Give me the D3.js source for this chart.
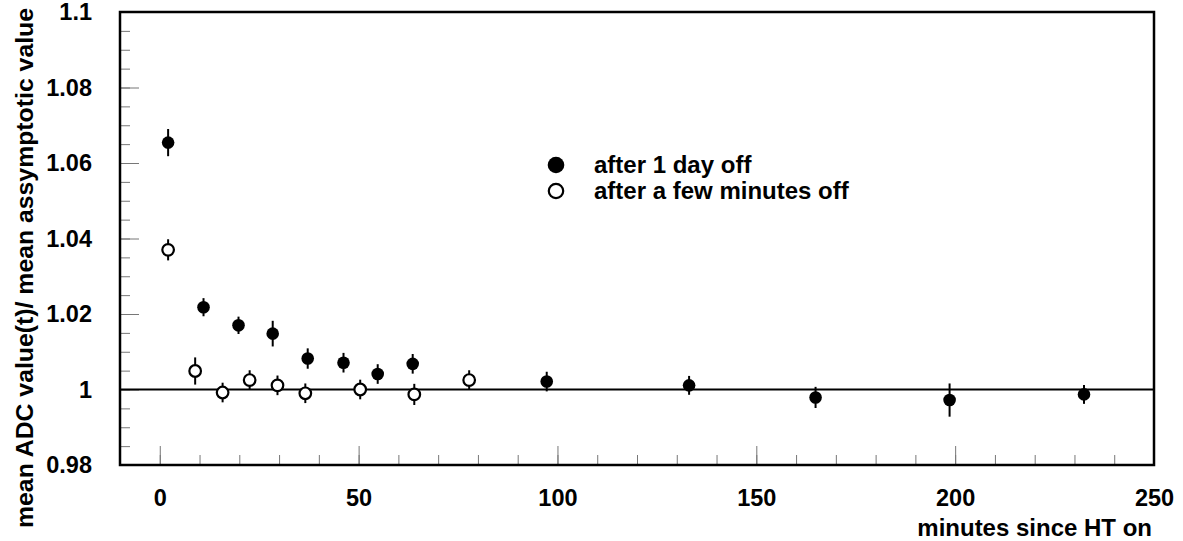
<!DOCTYPE html>
<html lang="en">
<head>
<meta charset="utf-8">
<style>
  body { margin: 0; background: white; }
  svg { background: white; font-family: 'Liberation Sans', Arial, sans-serif; font-weight: bold; }
  .tick line { stroke: #777; stroke-width: 1; }
  .tick text { font-size: 23.5px; fill: black; }
  .domain { display: none; }
</style>
</head>
<body>
<svg width="1183" height="541"></svg>
<script src="https://d3js.org/d3.v7.min.js"></script>
<script>
// after 1 day off (filled)
const dayTime = [2.1, 11.0, 19.8, 28.4, 37.2, 46.2, 54.8, 63.6, 97.3, 133.1, 164.9, 198.6, 232.4]
const dayValue = [1.0654, 1.0218, 1.0170, 1.0148, 1.0082, 1.0071, 1.0041, 1.0068, 1.0021, 1.0011, 0.9979, 0.9972, 0.9987]
const dayError = [0.0036, 0.0024, 0.0023, 0.0034, 0.0027, 0.0026, 0.0026, 0.0026, 0.0026, 0.0025, 0.0028, 0.0044, 0.0025]

// after a few minutes off (open)
const minTime = [2.1, 8.9, 15.8, 22.6, 29.6, 36.6, 50.4, 64.0, 77.8]
const minValue = [1.0370, 1.0049, 0.9992, 1.0025, 1.0011, 0.9990, 1.0000, 0.9987, 1.0025]
const minError = [0.0028, 0.0036, 0.0026, 0.0026, 0.0026, 0.0026, 0.0026, 0.0028, 0.0026]

const xMajor = [0, 50, 100, 150, 200, 250]
const yMajor = [0.98, 1, 1.02, 1.04, 1.06, 1.08, 1.1]
const yLabels = ["0.98", "1", "1.02", "1.04", "1.06", "1.08", "1.1"]

const svg = d3.select("svg")
const plot = { left: 120, right: 1154, top: 12, bottom: 465 }

const x = d3.scaleLinear().domain([-10, 250]).range([plot.left, plot.right])
const y = d3.scaleLinear().domain([0.98, 1.1]).range([plot.bottom, plot.top])

// minor ticks
svg.append("g")
  .attr("transform", "translate(0," + plot.bottom + ")")
  .call(d3.axisBottom(x).tickValues(d3.range(-10, 251, 10)).tickSize(-10).tickFormat(""))
svg.append("g")
  .attr("transform", "translate(" + plot.left + ",0)")
  .call(d3.axisLeft(y).tickValues(d3.range(0, 25).map(function(i){ return 0.98 + i * 0.005 })).tickSize(-10).tickFormat(""))

// major ticks + labels
svg.append("g")
  .attr("transform", "translate(0," + plot.bottom + ")")
  .call(d3.axisBottom(x).tickValues(xMajor).tickSize(-19).tickPadding(24))
  .selectAll("text").attr("dy", "0.71em")
svg.append("g")
  .attr("transform", "translate(" + plot.left + ",0)")
  .call(d3.axisLeft(y).tickValues(yMajor).tickSize(-19).tickPadding(28)
    .tickFormat(function(d, i){ return yLabels[i] }))

// frame
svg.append("rect")
  .attr("x", plot.left).attr("y", plot.top)
  .attr("width", plot.right - plot.left).attr("height", plot.bottom - plot.top)
  .attr("fill", "none").attr("stroke", "black").attr("stroke-width", 2.5)

// reference line at 1
svg.append("line")
  .attr("x1", plot.left).attr("x2", plot.right)
  .attr("y1", y(1)).attr("y2", y(1))
  .attr("stroke", "black").attr("stroke-width", 2)

function drawSeries(times, values, errors, filled) {
  const data = times.map(function(t, i){ return { t: t, v: values[i], e: errors[i] } })
  const g = svg.append("g")
  g.selectAll("line.err")
    .data(data).enter().append("line")
    .attr("class", "err")
    .attr("x1", function(d){ return x(d.t) }).attr("x2", function(d){ return x(d.t) })
    .attr("y1", function(d){ return y(d.v - d.e) }).attr("y2", function(d){ return y(d.v + d.e) })
    .attr("stroke", "black").attr("stroke-width", 2)
  g.selectAll("circle")
    .data(data).enter().append("circle")
    .attr("cx", function(d){ return x(d.t) })
    .attr("cy", function(d){ return y(d.v) })
    .attr("r", filled ? 6.3 : 5.8)
    .attr("fill", filled ? "black" : "white")
    .attr("stroke", "black")
    .attr("stroke-width", filled ? 0 : 2.2)
}
drawSeries(minTime, minValue, minError, false)
drawSeries(dayTime, dayValue, dayError, true)

// legend
const legend = svg.append("g")
legend.append("circle").attr("cx", 556).attr("cy", 165).attr("r", 8.3).attr("fill", "black")
legend.append("circle").attr("cx", 556).attr("cy", 191).attr("r", 7.2)
  .attr("fill", "white").attr("stroke", "black").attr("stroke-width", 2.2)
legend.append("text").attr("x", 594).attr("y", 173).attr("font-size", 24).text("after 1 day off")
legend.append("text").attr("x", 594).attr("y", 199).attr("font-size", 24).text("after a few minutes off")

// axis titles
svg.append("text")
  .attr("x", 1152).attr("y", 536)
  .attr("text-anchor", "end").attr("font-size", 24)
  .text("minutes since HT on")
svg.append("text")
  .attr("transform", "translate(33,8) rotate(-90)")
  .attr("text-anchor", "end").attr("font-size", 24.8)
  .text("mean ADC value(t)/ mean assymptotic value")
</script>
</body>
</html>
